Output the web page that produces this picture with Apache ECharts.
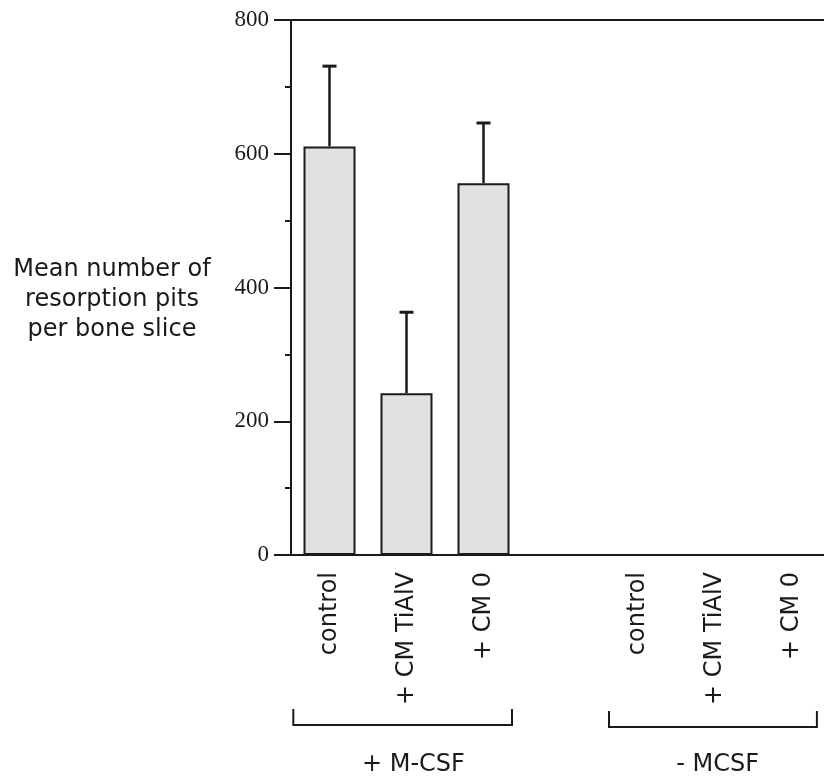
<!DOCTYPE html>
<html>
<head>
<meta charset="utf-8">
<script src="https://cdn.jsdelivr.net/npm/echarts@6/dist/echarts.min.js"></script>
<style>
  html, body { margin: 0; padding: 0; background: #fff; }
  #chart { width: 824px; height: 778px; }
</style>
</head>
<body>
<div id="chart"></div>
<script>
const CATEGORIES = ["control", "+ CM TiAlV", "+ CM 0", "", "control", "+ CM TiAlV", "+ CM 0"];
const MEANS = [611, 242, 556, "-", "-", "-", "-"];
const ERROR_TOPS = [731, 363, 646, null, null, null, null];
const GROUPS = [
  { label: "+ M-CSF", from: 0, to: 2, mid: 1 },
  { label: "- MCSF", from: 4, to: 6, mid: 5 }
];
const Y_TITLE = "Mean number of\nresorption pits\nper bone slice";

const INK = "#1a1a1a";
const SANS = "DejaVu Sans, Verdana, sans-serif";
const SERIF = "Liberation Serif, Times New Roman, serif";

const chart = echarts.init(document.getElementById("chart"));

const errorData = ERROR_TOPS
  .map((top, i) => (top == null ? null : [i, MEANS[i], top]))
  .filter(Boolean);

chart.setOption({
  animation: false,
  backgroundColor: "#fff",
  grid: {
    left: 291,
    top: 20,
    width: 539,
    height: 535,
    outerBoundsMode: "none",
    containLabel: false,
    show: true,
    borderColor: INK,
    borderWidth: 2,
    backgroundColor: "transparent"
  },
  xAxis: {
    type: "category",
    data: CATEGORIES,
    axisLine: { lineStyle: { color: INK, width: 2 } },
    axisTick: { alignWithLabel: true, length: 10, lineStyle: { color: INK, width: 2 } },
    axisLabel: {
      rotate: 90,
      margin: 17,
      interval: 0,
      color: INK,
      fontFamily: SANS,
      fontSize: 24
    }
  },
  yAxis: {
    type: "value",
    min: 0,
    max: 800,
    interval: 200,
    axisLine: { show: true, lineStyle: { color: INK, width: 2 } },
    axisTick: { show: true, length: 17, lineStyle: { color: INK, width: 2 } },
    minorTick: { show: true, splitNumber: 2, length: 6, lineStyle: { color: INK, width: 2 } },
    splitLine: { show: false },
    axisLabel: {
      margin: 22,
      color: INK,
      fontFamily: SERIF,
      fontSize: 23
    }
  },
  series: [
    {
      type: "bar",
      data: MEANS,
      barWidth: 52,
      itemStyle: { color: "#e1e1e1", borderColor: INK, borderWidth: 2 },
      z: 2
    },
    {
      type: "custom",
      data: errorData,
      z: 3,
      renderItem(params, api) {
        const base = api.coord([api.value(0), api.value(1)]);
        const top = api.coord([api.value(0), api.value(2)]);
        return {
          type: "group",
          children: [
            { type: "line", shape: { x1: base[0], y1: base[1], x2: top[0], y2: top[1] }, style: { stroke: INK, lineWidth: 2.5 } },
            { type: "line", shape: { x1: top[0] - 7, y1: top[1], x2: top[0] + 7, y2: top[1] }, style: { stroke: INK, lineWidth: 3 } }
          ]
        };
      }
    }
  ]
});

// brackets and group names under the category labels
function drawGroups() {
  const px = (i) => chart.convertToPixel({ xAxisIndex: 0 }, i);
  const step = px(1) - px(0);
  const ends = [[-0.47, 0.37], [-0.37, 0.33]];
  const lineY = [725, 727];
  const labelShift = [0.09, 0.04];
  const elements = [];
  GROUPS.forEach((g, gi) => {
    const x1 = px(g.from) + ends[gi][0] * step;
    const x2 = px(g.to) + ends[gi][1] * step;
    const y = lineY[gi];
    elements.push({
      type: "polyline",
      shape: { points: [[x1, y - 16], [x1, y], [x2, y], [x2, y - 16]] },
      style: { stroke: INK, lineWidth: 2, fill: null }
    });
    elements.push({
      type: "text",
      x: px(g.mid) + labelShift[gi] * step,
      y: 765,
      style: {
        text: g.label,
        fill: INK,
        font: "24px " + SANS,
        align: "center",
        verticalAlign: "middle"
      }
    });
  });
  elements.push({
    type: "text",
    x: 112,
    y: 300,
    style: {
      text: Y_TITLE,
      fill: INK,
      font: "24px " + SANS,
      lineHeight: 30,
      align: "center",
      verticalAlign: "middle"
    }
  });
  chart.setOption({ graphic: elements });
}

drawGroups();
</script>
</body>
</html>
